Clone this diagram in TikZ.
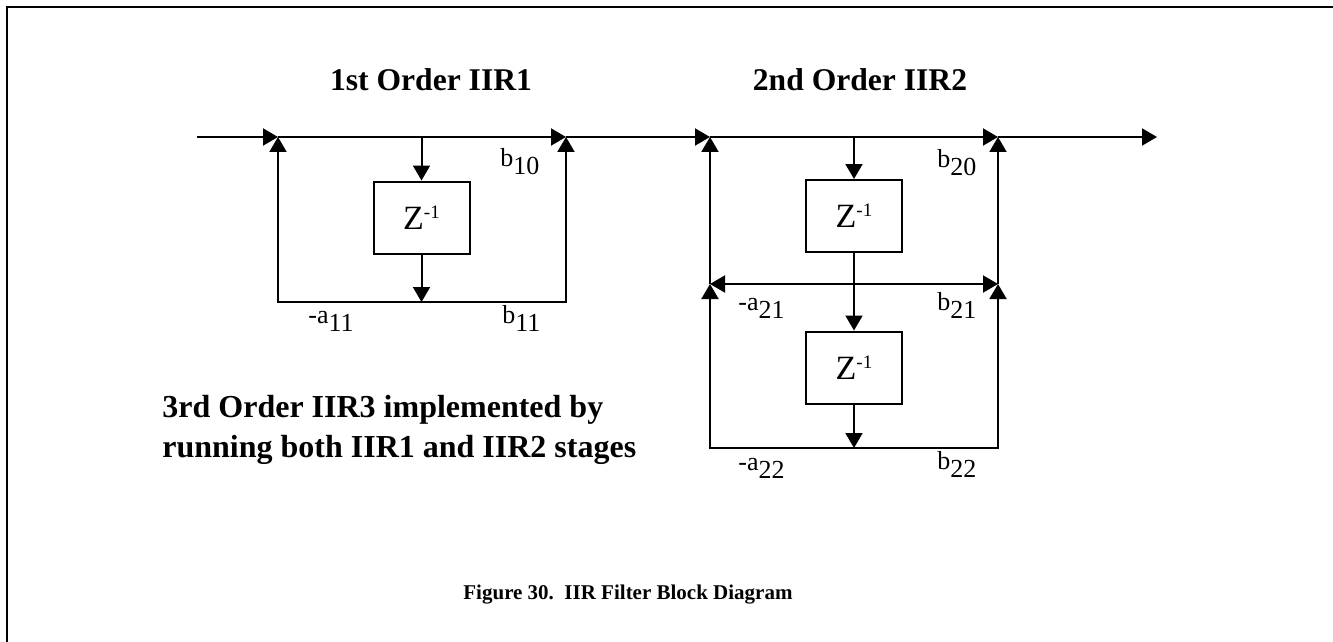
\documentclass[tikz,border=0pt]{standalone}
\usepackage{fontspec}
\setmainfont{Liberation Serif}
\usetikzlibrary{arrows.meta}

\newcommand{\gain}[2]{#1\raisebox{-4pt}{#2}}
\newcommand{\zinv}{Z\raisebox{5.5pt}{\fontsize{9.5}{9.5}\selectfont -1}}

\begin{document}
\begin{tikzpicture}[x=0.5pt, y=-0.5pt,
		sig/.style={-{Triangle[length=7.5pt,width=8.5pt]}, line width=1pt},
		delay/.style={draw, line width=1pt, minimum width=48pt, minimum height=36pt, inner sep=0pt, font=\fontsize{17}{17}\selectfont},
		coef/.style={anchor=base west, inner sep=0pt, font=\fontsize{13}{13}\selectfont},
		title/.style={anchor=base, inner sep=0pt, font=\bfseries\fontsize{15.8}{16}\selectfont},
		note/.style={anchor=base west, inner sep=0pt, font=\bfseries\fontsize{16}{16}\selectfont}]
		\useasboundingbox (0,0) rectangle (1333,642);
		
		% frame
		\draw[line width=1pt] (1333,7) -- (7,7) -- (7,642);
		
		% main signal line
		\coordinate (in) at (197,137);
		\coordinate (s1) at (278,137);
		\coordinate (o1) at (566,137);
		\coordinate (s2) at (710,137);
		\coordinate (o2) at (998,137);
		\coordinate (out) at (1157,137);
		\draw[sig] (in) -- (s1);
		\draw[sig] (s1) -- (o1);
		\draw[sig] (o1) -- (s2);
		\draw[sig] (s2) -- (o2);
		\draw[sig] (o2) -- (out);
		
		% first order stage
		\node[delay] (z1) at (421.5,217.5) {\zinv};
		\coordinate (f1) at (421.5,302);
		\draw[sig] (z1 |- s1) -- (z1.north);
		\draw[sig] (z1.south) -- (f1);
		\draw[sig] (f1) -| (s1);
		\draw[sig] (f1) -| (o1);
		
		% second order stage
		\node[delay] (z2) at (854,216) {\zinv};
		\node[delay] (z3) at (854,367.5) {\zinv};
		\coordinate (m2) at (854,284);
		\coordinate (a21) at (710,284);
		\coordinate (b21) at (998,284);
		\coordinate (f2) at (854,448);
		\draw[sig] (z2 |- s2) -- (z2.north);
		\draw[sig] (z2.south) -- (z3.north);
		\draw[sig] (m2) -- (a21);
		\draw[sig] (m2) -- (b21);
		\draw[sig] (a21) -- (s2);
		\draw[sig] (b21) -- (o2);
		\draw[sig] (z3.south) -- (f2);
		\draw[sig] (f2) -| (a21);
		\draw[sig] (f2) -| (b21);
		
		% coefficients
		\node[coef] (b10) at (500,167) {\gain{b}{10}};
		\node[coef] (a11) at (308,323) {\gain{-a}{11}};
		\node[coef] (b11) at (502,323) {\gain{b}{11}};
		\node[coef] (b20) at (937,168) {\gain{b}{20}};
		\node[coef] (a21l) at (738,310) {\gain{-a}{21}};
		\node[coef] (b21l) at (937,310) {\gain{b}{21}};
		\node[coef] (a22) at (738,470) {\gain{-a}{22}};
		\node[coef] (b22) at (937,469) {\gain{b}{22}};
		
		% texts
		\node[title] (iir1) at (431,91) {1st Order IIR1};
		\node[title] (iir2) at (860,91) {2nd Order IIR2};
		\node[note] (note1) at (162,417) {3rd Order IIR3 implemented by};
		\node[note] (note2) at (162,457) {running both IIR1 and IIR2 stages};
		\node[anchor=base west, inner sep=0pt, font=\bfseries\fontsize{10.5}{12}\selectfont] (cap) at (463,599) {Figure 30.\ \ IIR Filter Block Diagram};
\end{tikzpicture}
\end{document}
